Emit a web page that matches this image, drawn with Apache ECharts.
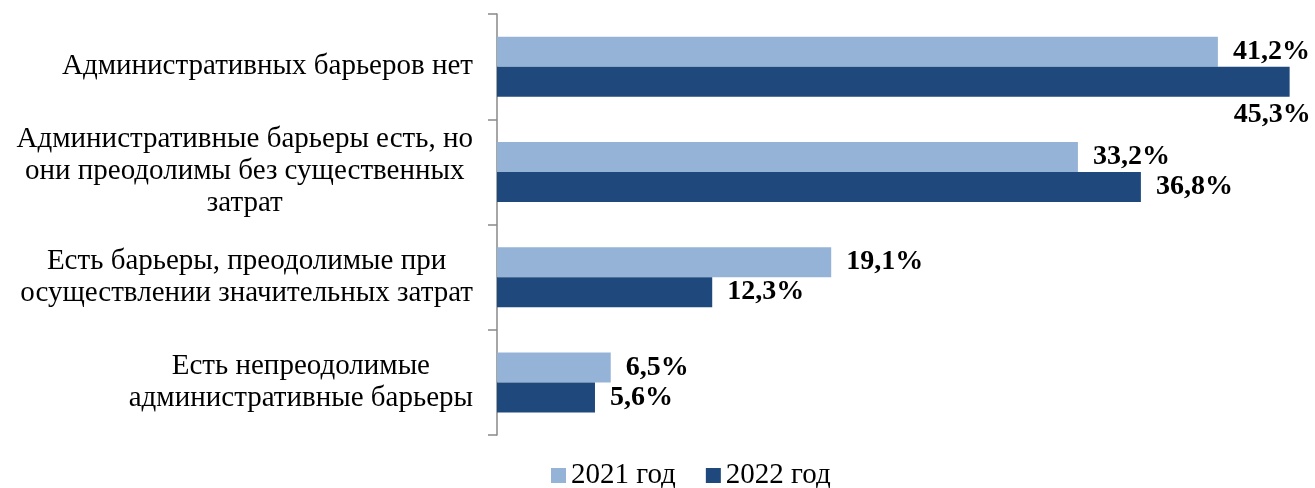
<!DOCTYPE html>
<html>
<head>
<meta charset="utf-8">
<script src="https://cdn.jsdelivr.net/npm/echarts@6/dist/echarts.min.js"></script>
<style>
  html, body { margin: 0; padding: 0; background: #fff; }
  #main { width: 1315px; height: 488px; }
</style>
</head>
<body>
<div id="main"></div>
<script>
// категории (сверху вниз)
var categories = [
  'Административных барьеров нет',
  'Административные барьеры есть, но\nони преодолимы без существенных\nзатрат',
  'Есть барьеры, преодолимые при\nосуществлении значительных затрат',
  'Есть непреодолимые\nадминистративные барьеры'
];
var seriesNames = ['2021 год', '2022 год'];
var values2021 = [41.2, 33.2, 19.1, 6.5];
var values2022 = [45.3, 36.8, 12.3, 5.6];

var colors = ['#95B3D7', '#1F497D'];
var serif = '"Liberation Serif", "Times New Roman", serif';

var myChart = echarts.init(document.getElementById('main'));

function fmt(p) {
  return p.value.toFixed(1).replace('.', ',') + '%';
}

// подпись 45,3% стоит под столбиком
var data2022 = values2022.map(function (v, i) {
  if (i === 0) {
    return { value: v, label: { offset: [-71, 33] } };
  }
  return v;
});

var labelStyle = {
  show: true,
  position: 'right',
  distance: 15,
  formatter: fmt,
  fontFamily: serif,
  fontWeight: 'bold',
  fontSize: 28,
  color: '#000'
};

var option = {
  animation: false,
  grid: { left: 497, top: 14, bottom: 53, right: 0 },
  legend: {
    data: seriesNames,
    left: 546,
    top: 456,
    icon: 'rect',
    itemWidth: 15,
    itemHeight: 15,
    itemGap: 30,
    textStyle: { fontFamily: serif, fontSize: 29, color: '#000' }
  },
  xAxis: {
    type: 'value',
    min: 0,
    max: 46.75,
    show: false,
    splitLine: { show: false }
  },
  yAxis: {
    type: 'category',
    data: categories,
    inverse: true,
    axisLine: { show: true, lineStyle: { color: '#898989', width: 1.5 } },
    axisTick: { show: true, length: 9, lineStyle: { color: '#898989', width: 1.5 } },
    axisLabel: {
      margin: 24,
      fontFamily: serif,
      fontSize: 29,
      color: '#000',
      formatter: function (v) {
        return v.split('\n').map(function (s) { return '{c|' + s + '}'; }).join('\n');
      },
      rich: {
        c: { align: 'center', fontFamily: serif, fontSize: 29, lineHeight: 32, color: '#000' }
      }
    }
  },
  series: [
    {
      name: seriesNames[0],
      type: 'bar',
      data: values2021,
      barWidth: 30,
      barGap: '0%',
      itemStyle: { color: colors[0] },
      label: labelStyle
    },
    {
      name: seriesNames[1],
      type: 'bar',
      data: data2022,
      barWidth: 30,
      barGap: '0%',
      itemStyle: { color: colors[1] },
      label: labelStyle
    }
  ]
};

myChart.setOption(option);
</script>
</body>
</html>
